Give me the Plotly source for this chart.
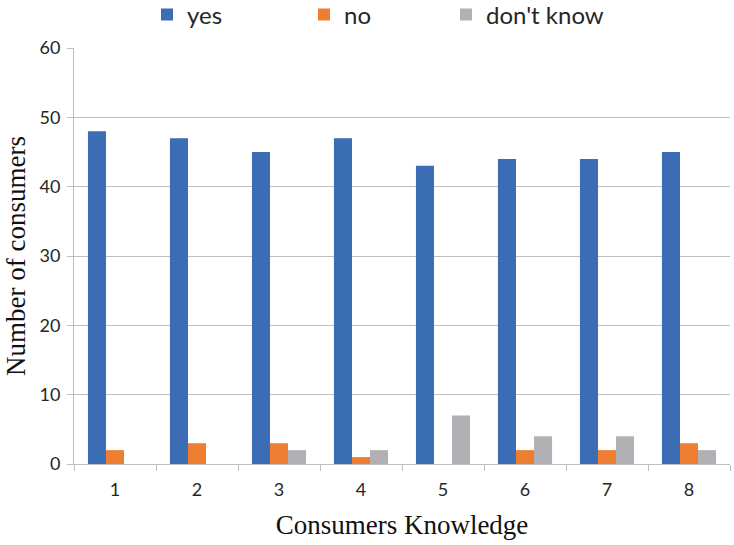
import plotly.graph_objects as go

categories = ["1", "2", "3", "4", "5", "6", "7", "8"]
yes_vals = [48, 47, 45, 47, 43, 44, 44, 45]
no_vals = [2, 3, 3, 1, 0, 2, 2, 3]
dk_vals = [0, 0, 2, 2, 7, 4, 4, 2]
series_names = ["yes", "no", "don't know"]
colors = ["#3B6DB5", "#ED7D31", "#B1B1B5"]
legend_ids = ["legend", "legend2", "legend3"]
legend_x = [147, 304, 446]

fig = go.Figure()
for name, vals, col, lg in zip(series_names, [yes_vals, no_vals, dk_vals], colors, legend_ids):
    fig.add_trace(go.Bar(x=categories, y=vals, name=name, legend=lg, showlegend=True,
                         marker=dict(color=col, line=dict(width=0))))

tick_font = dict(family="Lato, Open Sans, sans-serif", size=18, color="#262626")
title_font = dict(family="Liberation Serif, Times New Roman, serif", size=27, color="#111")
legend_font = dict(family="Lato, Open Sans, sans-serif", size=24, color="#262626")

legends = {}
for lg, lx in zip(legend_ids, legend_x):
    legends[lg] = dict(orientation="h", xref="container", x=lx / 734, xanchor="left",
                       yref="container", y=1 - 15 / 545, yanchor="middle",
                       font=legend_font, itemwidth=30, bgcolor="rgba(0,0,0,0)")

fig.update_layout(
    width=734, height=545, showlegend=True,
    margin=dict(l=74, r=4, t=48, b=81, autoexpand=False),
    plot_bgcolor="white", paper_bgcolor="white",
    barmode="group", bargap=0.34, bargroupgap=0,
    **legends,
    xaxis=dict(
        title=dict(text="Consumers Knowledge", font=title_font, standoff=16),
        tickfont=tick_font, ticklabelstandoff=9,
        showline=True, linecolor="#BFBFBF", linewidth=1,
        ticks="outside", tickson="boundaries", ticklen=6, tickcolor="#BFBFBF",
    ),
    yaxis=dict(
        title=dict(text="Number of consumers", font=title_font, standoff=6),
        tickfont=tick_font, ticklabelstandoff=3,
        range=[0, 60], dtick=10,
        showline=True, linecolor="#BFBFBF", linewidth=1,
        ticks="outside", ticklen=6, tickcolor="#BFBFBF",
        showgrid=True, gridcolor="#BFBFBF", gridwidth=1,
        zeroline=False,
    ),
)
fig.write_html("out.html")
